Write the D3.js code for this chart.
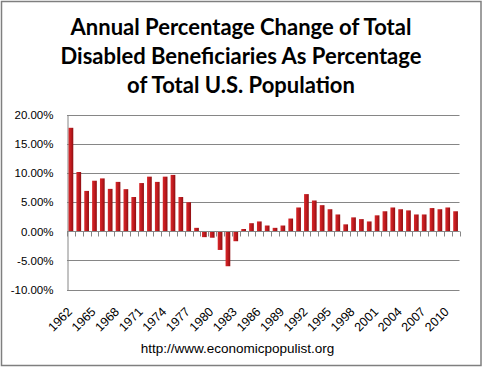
<!DOCTYPE html>
<html><head><meta charset="utf-8">
<script src="https://cdn.jsdelivr.net/npm/d3@7/dist/d3.min.js"></script>
<style>body{margin:0;background:#fff}svg{display:block}</style>
</head><body>
<script>
const years = d3.range(1962, 2012).map(String);
const values = [17.8,10.2,6.95,8.7,9.1,7.3,8.5,7.25,5.9,8.3,
9.4,8.5,9.4,9.7,5.9,5.0,0.6,-1.0,-1.1,-3.2,
-6.0,-1.7,0.4,1.4,1.7,1.0,0.6,1.0,2.2,4.1,
6.4,5.3,4.5,3.8,2.9,1.2,2.4,2.1,1.7,2.75,
3.45,4.1,3.8,3.6,2.9,2.9,4.0,3.8,4.1,3.45];
const yTicks = [-10,-5,0,5,10,15,20];
const xTickLabels = years.filter((d,i)=>i%3===0 && +d<=2010);
const titleLines = ["Annual Percentage Change of Total","Disabled Beneficiaries As Percentage","of Total U.S. Population"];
const footer = "http://www.economicpopulist.org";

(function(){
const W=483,H=368;
const svg=d3.select("body").append("svg").attr("width",W).attr("height",H);
const defs=svg.append("defs");
const g1=defs.append("linearGradient").attr("id","bar").attr("x1","0").attr("x2","1").attr("y1","0").attr("y2","0");
g1.append("stop").attr("offset","0").attr("stop-color","#d8282a");
g1.append("stop").attr("offset","0.5").attr("stop-color","#c01a1e");
g1.append("stop").attr("offset","1").attr("stop-color","#8c0f12");

svg.append("rect").attr("x",1.5).attr("y",1.5).attr("width",479.5).attr("height",364)
  .attr("fill","#fff").attr("stroke","#7f7f7f").attr("stroke-width",1.5);

const pL=67,pR=459.5,pT=115,pB=289.5;
const x=d3.scaleBand().domain(years).range([pL,pR]).paddingInner(0.4).paddingOuter(0.2);
const y=d3.scaleLinear().domain([-10,20]).range([pB,pT]);

svg.append("g").selectAll("line").data(yTicks).join("line")
  .attr("x1",pL).attr("x2",pR).attr("y1",d=>Math.round(y(d))+0.5).attr("y2",d=>Math.round(y(d))+0.5)
  .attr("stroke","#868686").attr("stroke-width",1);

const yAxis=d3.axisLeft(y).tickValues(yTicks).tickSize(0).tickPadding(14).tickFormat(d=>d.toFixed(2)+"%");
const ya=svg.append("g").attr("transform",`translate(${pL+0.5},0)`).call(yAxis);
ya.select(".domain").attr("stroke","#868686");
ya.selectAll("text").attr("font-family","'Liberation Sans',Arial,sans-serif").attr("font-size",11.5).attr("fill","#000");

svg.append("g").selectAll("rect").data(values).join("rect")
  .attr("x",(d,i)=>x(years[i])).attr("width",x.bandwidth())
  .attr("y",d=>y(Math.max(0,d))).attr("height",d=>Math.abs(y(d)-y(0)))
  .attr("fill","url(#bar)");

const z=Math.round(y(0))+0.5;
const xg=svg.append("g");
xg.append("line").attr("x1",pL).attr("x2",pR).attr("y1",z).attr("y2",z).attr("stroke","#868686");
const step=x.step();
xg.selectAll("line.t").data(d3.range(years.length+1)).join("line").attr("class","t")
  .attr("x1",i=>Math.round(pL+i*step)+0.5).attr("x2",i=>Math.round(pL+i*step)+0.5)
  .attr("y1",z).attr("y2",z+5).attr("stroke","#868686");

svg.append("g").selectAll("text").data(xTickLabels).join("text")
  .attr("transform",d=>`translate(${x(d)+x.bandwidth()/2+2},${pB+23}) rotate(-45)`)
  .attr("text-anchor","end").attr("font-family","'Liberation Sans',Arial,sans-serif")
  .attr("font-size",12.5).attr("fill","#000").text(d=>d);

svg.append("g").selectAll("text").data(titleLines).join("text")
  .attr("x",241).attr("y",(d,i)=>35+i*29).attr("text-anchor","middle")
  .attr("font-family","Lato,'Open Sans',sans-serif").attr("font-weight","bold")
  .attr("font-size",22).attr("fill","#000").text(d=>d);

svg.append("text").attr("x",237.5).attr("y",353).attr("text-anchor","middle")
  .attr("font-family","'Liberation Sans',Arial,sans-serif").attr("font-size",13.5).attr("fill","#000").text(footer);
})();
</script>
</body></html>
